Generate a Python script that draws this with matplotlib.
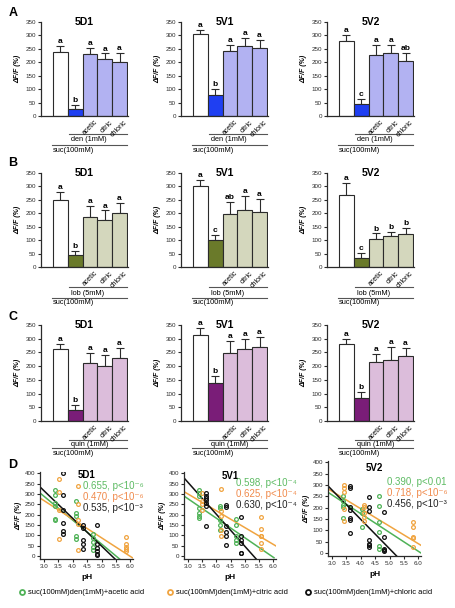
import numpy as np
import matplotlib
matplotlib.use("Agg")
import matplotlib.pyplot as plt
from matplotlib.lines import Line2D

plt.rcParams["font.family"] = ["Liberation Sans", "DejaVu Sans"]

regions = ["5D1", "5V1", "5V2"]
acids = ["acetic", "citric", "chloric"]

# bar panels: [white ctrl, drug, +acetic, +citric, +chloric], upper error only
a_mean = [[239, 26, 231, 213, 201], [307, 78, 241, 261, 253], [279, 44, 228, 235, 203]]
a_err = [[22, 16, 24, 20, 34], [15, 22, 25, 31, 29], [24, 21, 38, 31, 32]]
a_letters = [["a", "b", "a", "a", "a"], ["a", "b", "a", "a", "a"], ["a", "c", "a", "a", "ab"]]

b_mean = [[250, 44, 187, 174, 202], [301, 100, 196, 214, 205], [268, 34, 103, 115, 122]]
b_err = [[29, 17, 41, 37, 36], [23, 21, 46, 50, 49], [46, 17, 22, 17, 23]]
b_letters = [["a", "b", "a", "a", "a"], ["a", "c", "ab", "a", "a"], ["a", "c", "b", "b", "b"]]

c_mean = [[261, 40, 211, 202, 228], [313, 137, 249, 261, 270], [279, 85, 216, 224, 236]]
c_err = [[20, 18, 36, 39, 37], [27, 28, 43, 37, 37], [21, 22, 30, 46, 29]]
c_letters = [["a", "b", "a", "a", "a"], ["a", "b", "a", "a", "a"], ["a", "b", "a", "a", "a"]]

# panel D scatter: pH vs dF/F
d1_acetic_ph = [3.40, 3.40, 3.40, 3.40, 3.40, 3.40, 4.12, 4.12, 4.12, 4.12, 4.12, 4.70, 4.70, 4.70, 4.70, 4.70]
d1_acetic_val = [319, 295, 257, 241, 181, 173, 266, 206, 193, 96, 84, 105, 89, 68, 44, 28]
d1_citric_ph = [3.52, 3.52, 3.52, 3.52, 4.20, 4.20, 4.20, 4.20, 4.20, 5.86, 5.86, 5.86, 5.86, 5.86]
d1_citric_val = [371, 311, 222, 84, 338, 251, 176, 157, 31, 92, 60, 44, 36, 24]
d1_chloric_ph = [3.66, 3.66, 3.66, 3.66, 3.66, 3.66, 4.37, 4.37, 4.37, 4.37, 4.37, 4.85, 4.85, 4.85, 4.85, 4.85, 4.85]
d1_chloric_val = [400, 295, 222, 160, 121, 108, 149, 138, 76, 60, 36, 149, 60, 40, 24, 11, 3]

v1_acetic_ph = [3.41, 3.41, 3.41, 3.41, 3.41, 3.41, 3.41, 4.12, 4.12, 4.12, 4.12, 4.12, 4.70, 4.70, 4.70, 4.70, 4.70]
v1_acetic_val = [320, 304, 288, 232, 208, 195, 184, 243, 232, 176, 152, 128, 179, 152, 96, 77, 64]
v1_citric_ph = [3.51, 3.51, 3.51, 3.51, 4.18, 4.18, 4.18, 4.18, 4.18, 5.56, 5.56, 5.56, 5.56, 5.56, 5.56]
v1_citric_val = [304, 264, 253, 221, 323, 216, 195, 128, 96, 189, 131, 99, 96, 64, 35]
v1_chloric_ph = [3.65, 3.65, 3.65, 3.65, 3.65, 3.65, 3.65, 4.35, 4.35, 4.35, 4.35, 4.35, 4.35,
                 4.85, 4.85, 4.85, 4.85, 4.85, 4.85]
v1_chloric_val = [304, 291, 280, 269, 256, 243, 144, 248, 237, 144, 115, 99, 56, 189, 96, 80, 64, 16, 13]

v2_acetic_ph = [3.38, 3.38, 3.38, 3.38, 3.38, 4.06, 4.06, 4.06, 4.64, 4.64, 4.64, 4.64, 4.64, 4.64]
v2_acetic_val = [253, 230, 212, 204, 156, 193, 178, 116, 252, 207, 138, 93, 30, 19]
v2_citric_ph = [3.44, 3.44, 3.44, 3.44, 3.44, 4.12, 4.12, 4.12, 4.12, 4.12, 5.83, 5.83, 5.83, 5.83, 5.83]
v2_citric_val = [301, 286, 267, 193, 142, 212, 201, 178, 160, 142, 138, 116, 71, 64, 24]
v2_chloric_ph = [3.62, 3.62, 3.62, 3.62, 3.62, 3.62, 3.62, 4.30, 4.30, 4.30, 4.30, 4.30, 4.30, 4.30,
                 4.80, 4.80, 4.80, 4.80, 4.80]
v2_chloric_val = [296, 286, 201, 190, 153, 145, 86, 249, 204, 185, 56, 41, 34, 27, 182, 71, 19, 12, 9]

# regression lines (x0, y0, x1, y1)
d1_lines = [(2.885, 303, 5.66, -18), (2.885, 279, 6.07, -8), (2.885, 332, 5.52, -21)]
v1_lines = [(2.86, 291, 6.02, -8), (2.86, 312, 6.10, 48), (2.86, 379, 5.39, -13)]
v2_lines = [(2.83, 271, 6.08, 0), (2.83, 286, 6.08, 34), (2.83, 301, 5.30, -21)]

d1_stats = ["0.655, p<10⁻⁶", "0.470, p<10⁻⁶", "0.535, p<10⁻³"]
v1_stats = ["0.598, p<10⁻⁴", "0.625, p<10⁻⁴", "0.630, p<10⁻⁴"]
v2_stats = ["0.390, p<0.01", "0.718, p<10⁻⁶", "0.456, p<10⁻³"]

legend_labels = ["suc(100mM)den(1mM)+acetic acid", "suc(100mM)den(1mM)+citric acid",
                 "suc(100mM)den(1mM)+chloric acid"]

W, H = 456, 608
EDGE = "#2b2b2b"
d_colors = ["#4fb257", "#f0a440", "#111111"]
d_text_colors = ["#5dbb63", "#f08a4b", "#222222"]


def rect(l, t, r, b):
    return [l / W, 1 - b / H, (r - l) / W, (b - t) / H]


def style_axes(ax):
    for s in ["top", "right"]:
        ax.spines[s].set_visible(False)
    for s in ["left", "bottom"]:
        ax.spines[s].set_linewidth(0.9)
        ax.spines[s].set_color(EDGE)
    ax.tick_params(axis="both", labelsize=4.5, length=2.5, width=0.8, pad=1, colors=EDGE)


def bar_panel(ax, name, mean, err, letters, drug, dark, light, offs):
    x = np.arange(5)
    colors = ["white", dark, light, light, light]
    ax.bar(x, mean, width=1.0, color=colors, edgecolor=EDGE, linewidth=0.8, zorder=2)
    ax.errorbar(x, mean, yerr=[np.zeros(5), err], fmt="none", ecolor=EDGE,
                elinewidth=0.8, capsize=2.8, capthick=0.8, zorder=1)
    for xi, m, e, lt in zip(x, mean, err, letters):
        ax.text(xi, m + e + 3, lt, ha="center", va="bottom", fontsize=6, fontweight="bold")
    ax.set_xlim(-1.31, 4.57)
    ax.set_ylim(0, 350)
    ax.set_yticks(range(0, 351, 50))
    ax.set_xticks([])
    style_axes(ax)
    ax.set_ylabel("ΔF/F (%)", fontsize=5, fontweight="bold", fontstyle="italic", labelpad=3)
    ax.text(0.5, 1.0, name, transform=ax.transAxes, ha="center", va="center",
            fontsize=7.5, fontweight="bold")
    tr = ax.get_xaxis_transform()
    for i, acid in enumerate(acids):
        ax.text(i + 2 + 0.3, -0.03, acid, transform=tr, rotation=45, ha="right", va="top",
                rotation_mode="anchor", fontsize=5)
    l1, t1, l2, t2 = offs
    ax.plot([0.6, 4.5], [l1, l1], transform=tr, color="#555555", lw=0.8, clip_on=False)
    ax.text(0.75, t1, drug, transform=tr, ha="left", va="center", fontsize=5.3)
    ax.plot([-0.6, 4.5], [l2, l2], transform=tr, color="#555555", lw=0.8, clip_on=False)
    ax.text(-0.5, t2, "suc(100mM)", transform=tr, ha="left", va="center", fontsize=5.3)


fig = plt.figure(figsize=(4.56, 6.08), dpi=100)

lefts = [41, 181, 327]
rows = [
    ("A", a_mean, a_err, a_letters, "den (1mM)", "#1f3ff2", "#b2b2f2", 22, 116, 13,
     (-0.19, -0.25, -0.31, -0.37)),
    ("B", b_mean, b_err, b_letters, "lob (5mM)", "#6a7a2a", "#d4d7bd", 173, 267, 163,
     (-0.21, -0.28, -0.33, -0.38)),
    ("C", c_mean, c_err, c_letters, "quin (1mM)", "#7a1d78", "#dcbddb", 325, 421, 317,
     (-0.2, -0.245, -0.285, -0.335)),
]
for tag, means, errs, lets, drug, dark, light, top, bot, tag_y, offs in rows:
    for j in range(3):
        ax = fig.add_axes(rect(lefts[j], top, lefts[j] + 87, bot))
        bar_panel(ax, regions[j], means[j], errs[j], lets[j], drug, dark, light, offs)
    fig.text(13 / W, 1 - tag_y / H, tag, fontsize=9, fontweight="bold", ha="center", va="center")

# panel D
d_sets = [
    ([(d1_acetic_ph, d1_acetic_val), (d1_citric_ph, d1_citric_val), (d1_chloric_ph, d1_chloric_val)],
     d1_lines, d1_stats, (40, 472, 133, 559), (0.46, [0.84, 0.71, 0.59]), 0.965),
    ([(v1_acetic_ph, v1_acetic_val), (v1_citric_ph, v1_citric_val), (v1_chloric_ph, v1_chloric_val)],
     v1_lines, v1_stats, (184, 472, 276, 559), (0.565, [0.87, 0.745, 0.62]), 0.955),
    ([(v2_acetic_ph, v2_acetic_val), (v2_citric_ph, v2_citric_val), (v2_chloric_ph, v2_chloric_val)],
     v2_lines, v2_stats, (328, 461, 421, 556), (0.63, [0.78, 0.665, 0.55]), 0.93),
]
for j, (pts, lines, stats, box, (tx, tys), title_y) in enumerate(d_sets):
    ax = fig.add_axes(rect(*box))
    for k, (ph, val) in enumerate(pts):
        ax.plot(ph, val, "o", mfc="none", mec=d_colors[k], mew=0.9, ms=2.7, zorder=3)
    for k, (x0, y0, x1, y1) in enumerate(lines):
        ax.plot([x0, x1], [y0, y1], color=d_colors[k], lw=1.1, zorder=2)
    ax.set_xlim(2.87, 6.09)
    ax.set_ylim(-14, 406)
    ax.set_xticks([3.0, 3.5, 4.0, 4.5, 5.0, 5.5, 6.0])
    ax.set_xticklabels(["3.0", "3.5", "4.0", "4.5", "5.0", "5.5", "6.0"])
    ax.set_yticks(range(0, 401, 50))
    style_axes(ax)
    ax.set_ylabel("ΔF/F (%)", fontsize=5, fontweight="bold", fontstyle="italic", labelpad=2)
    ax.set_xlabel("pH", fontsize=6, fontweight="bold", labelpad=4)
    ax.text(0.5, title_y, regions[j], transform=ax.transAxes, ha="center", va="center",
            fontsize=7, fontweight="bold")
    for k, s in enumerate(stats):
        ax.text(tx, tys[k], s, transform=ax.transAxes, ha="left", va="center",
                fontsize=7, color=d_text_colors[k])
fig.text(13 / W, 1 - 465 / H, "D", fontsize=9, fontweight="bold", ha="center", va="center")

# legend row
for k, (mx, lab) in enumerate(zip([22, 170, 308], legend_labels)):
    fig.add_artist(Line2D([mx / W], [1 - 592 / H], marker="o", mfc="none", mec=d_colors[k],
                          mew=1.3, ms=3.6, transform=fig.transFigure))
    fig.text((mx + 6) / W, 1 - 592 / H, lab, fontsize=5.4, ha="left", va="center")

fig.savefig("out.png", dpi=100)
